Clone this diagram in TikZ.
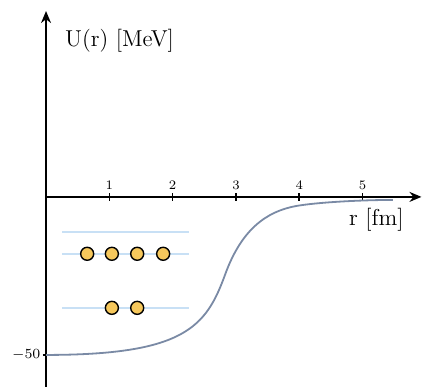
\documentclass[tikz,border=0pt]{standalone}
\usepackage{amsmath,amssymb}
\usepackage{tikz}
\usetikzlibrary{arrows.meta,calc,positioning}
\definecolor{potcol}{RGB}{122,138,165}
\definecolor{levcol}{RGB}{200,224,245}
\definecolor{nuccol}{RGB}{246,200,92}

\begin{document}
\begin{tikzpicture}[x=31.65pt, y=1.58pt,
    axis/.style={draw, thick, -{Stealth[length=6pt,width=5pt]}},
    level/.style={draw=levcol, line width=1pt},
    nucleon/.style={circle, draw, fill=nuccol, line width=0.7pt, minimum size=6.5pt, inner sep=0pt},
    potential/.style={draw=potcol, line width=0.9pt},
    ticklab/.style={font=\fontsize{6.5}{7}\selectfont, inner sep=1pt},
    axlab/.style={font=\fontsize{11.5}{13}\selectfont}
    ]
    \useasboundingbox (-0.727,-60.1) rectangle (5.97,62.3);

    % Axes
    \coordinate (o) at (0,0);
    \coordinate (ybot) at (0,-60.1);
    \coordinate (ytop) at (0,58.8);
    \coordinate (xend) at (5.93,0);
    \draw[axis] (ybot) -- (ytop);
    \draw[axis] (o) -- (xend);
    \node[axlab, anchor=west] (ulab) at (0.19,49.5) {U(r) [MeV]};
    \node[axlab, anchor=east] (rlab) at (5.76,-7.3) {r [fm]};

    % Ticks
    \foreach \i in {1,...,5}{
        \draw[thick] (\i,-1.2) -- (\i,1.2);
        \node[ticklab, above] (t\i) at (\i,1.5) {\i};
    }
    \draw[thick] (-0.05,-50) -- (0,-50);
    \node[ticklab, left, font=\fontsize{7}{8}\selectfont] (m50) at (-0.05,-50) {$-50$};

    % Potential
    \coordinate (p0) at (0,-50);
    \coordinate (p1) at (2.83,-24.5);
    \coordinate (p2) at (3.96,-2.85);
    \coordinate (p3) at (5.48,-0.95);
    \draw[potential] (p0) .. controls (2.2,-50) and (2.53,-41) .. (p1)
        .. controls (3.08,-10.75) and (3.46,-4.6) .. (p2)
        .. controls (4.26,-1.8) and (4.9,-1.0) .. (p3);

    % Levels
    \draw[level] (0.25,-11.1) -- (2.26,-11.1);
    \draw[level] (0.25,-18.0) -- (2.26,-18.0);
    \draw[level] (0.25,-35.1) -- (2.26,-35.1);

    % Nucleons
    \foreach \i/\r in {1/0.65,2/1.04,3/1.44,4/1.85}
        \node[nucleon] (n\i) at (\r,-18.0) {};
    \foreach \i/\r in {5/1.04,6/1.44}
        \node[nucleon] (n\i) at (\r,-35.1) {};
\end{tikzpicture}
\end{document}
